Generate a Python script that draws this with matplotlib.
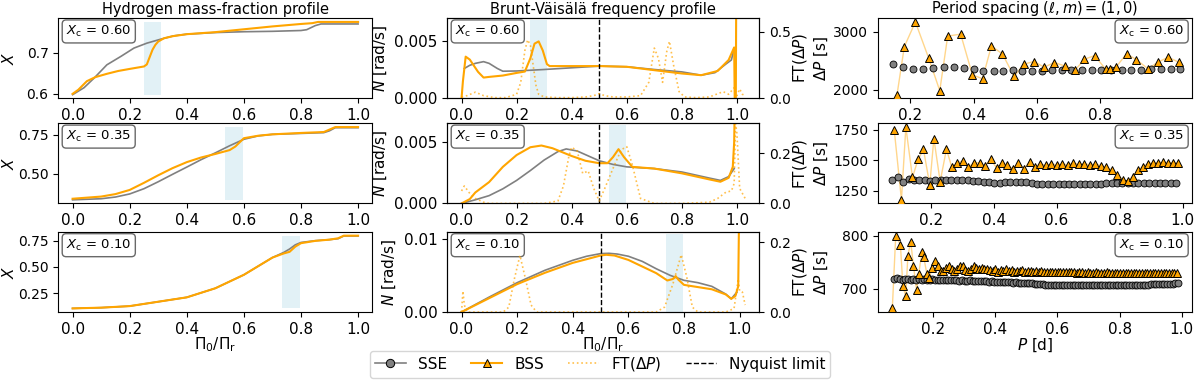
import numpy as np
import matplotlib.pyplot as plt
from matplotlib.lines import Line2D

plt.rcParams["font.size"] = 11

C_SSE = "gray"
C_BSS = "orange"
C_SHADE = "lightblue"

# ===============================
# Data: hydrogen profiles X(Pi0/Pir)
# ===============================
x_h60_sse = [0, 0.04, 0.076, 0.12, 0.17, 0.215, 0.26, 0.31, 0.355, 0.4, 0.5, 0.6, 0.7, 0.8, 0.82, 0.85, 0.87, 0.9, 1.0]
h60_sse = [0.598, 0.615, 0.639, 0.671, 0.692, 0.712, 0.724, 0.734, 0.742, 0.746, 0.750, 0.752, 0.753, 0.755, 0.757, 0.767, 0.771, 0.771, 0.771]
x_h60_bss = [0, 0.02, 0.05, 0.08, 0.12, 0.16, 0.2, 0.25, 0.26, 0.27, 0.28, 0.29, 0.3, 0.32, 0.35, 0.4, 0.5, 0.6, 0.7, 0.8, 0.84, 0.86, 0.9, 1.0]
h60_bss = [0.600, 0.610, 0.631, 0.641, 0.649, 0.656, 0.661, 0.667, 0.672, 0.690, 0.708, 0.720, 0.728, 0.736, 0.741, 0.746, 0.751, 0.758, 0.765, 0.771, 0.773, 0.776, 0.776, 0.776]

x_h35_sse = [0, 0.1, 0.15, 0.2, 0.25, 0.3, 0.35, 0.4, 0.45, 0.5, 0.55, 0.6, 0.65, 0.7, 0.8, 0.88, 0.9, 0.92, 1.0]
h35_sse = [0.330, 0.337, 0.348, 0.368, 0.402, 0.447, 0.495, 0.542, 0.590, 0.634, 0.680, 0.722, 0.744, 0.754, 0.760, 0.765, 0.777, 0.797, 0.797]
x_h35_bss = [0, 0.1, 0.15, 0.2, 0.25, 0.3, 0.35, 0.4, 0.45, 0.5, 0.53, 0.55, 0.57, 0.6, 0.65, 0.7, 0.8, 0.88, 0.9, 0.92, 1.0]
h35_bss = [0.337, 0.351, 0.367, 0.394, 0.440, 0.489, 0.535, 0.574, 0.604, 0.627, 0.642, 0.652, 0.675, 0.729, 0.745, 0.754, 0.763, 0.769, 0.785, 0.801, 0.801]

x_h10_sse = [0, 0.1, 0.2, 0.3, 0.4, 0.5, 0.6, 0.7, 0.74, 0.76, 0.78, 0.8, 0.85, 0.9, 0.93, 0.95, 1.0]
h10_sse = [0.103, 0.110, 0.125, 0.167, 0.209, 0.296, 0.425, 0.590, 0.640, 0.672, 0.712, 0.735, 0.752, 0.762, 0.771, 0.797, 0.797]
x_h10_bss = [0, 0.1, 0.2, 0.3, 0.4, 0.5, 0.6, 0.7, 0.74, 0.76, 0.78, 0.8, 0.85, 0.9, 0.93, 0.95, 1.0]
h10_bss = [0.103, 0.110, 0.125, 0.167, 0.209, 0.296, 0.425, 0.590, 0.630, 0.645, 0.695, 0.728, 0.750, 0.762, 0.775, 0.800, 0.800]

# ===============================
# Data: Brunt-Vaisala N and FT(dP)
# ===============================
x_n60_sse = [0.01, 0.03, 0.05, 0.08, 0.1, 0.13, 0.15, 0.2, 0.3, 0.4, 0.5, 0.6, 0.7, 0.8, 0.87, 0.92, 0.96, 0.98, 0.99]
n60_sse = [0.00262, 0.0029, 0.00307, 0.00322, 0.00307, 0.00262, 0.00238, 0.00240, 0.00253, 0.00268, 0.00283, 0.00277, 0.00253, 0.00232, 0.00203, 0.00225, 0.00301, 0.00337, 0.00441]
x_n60_bss = [0.0, 0.005, 0.015, 0.03, 0.06, 0.08, 0.1, 0.15, 0.2, 0.23, 0.25, 0.265, 0.28, 0.295, 0.31, 0.32, 0.4, 0.5, 0.6, 0.7, 0.8, 0.87, 0.93, 0.97, 0.99, 0.992, 0.996, 0.998]
n60_bss = [0.0, 0.0015, 0.00366, 0.0034, 0.00232, 0.00182, 0.00188, 0.00200, 0.00223, 0.00235, 0.00352, 0.00480, 0.00500, 0.0042, 0.00300, 0.00283, 0.00283, 0.00283, 0.00277, 0.00247, 0.00218, 0.00203, 0.00240, 0.00337, 0.00447, 0.0, 0.0, 0.012]
x_ft60 = [0, 0.02, 0.05, 0.08, 0.12, 0.16, 0.2, 0.215, 0.23, 0.24, 0.25, 0.26, 0.27, 0.28, 0.3, 0.35, 0.4, 0.45, 0.48, 0.5, 0.52, 0.55, 0.6, 0.65, 0.68, 0.7, 0.715, 0.73, 0.745, 0.755, 0.77, 0.79, 0.81, 0.85, 0.9, 0.95, 0.97, 0.99, 1.0, 1.01, 1.02, 1.03]
ft60 = [0.01, 0.02, 0.046, 0.02, 0.005, 0.005, 0.03, 0.12, 0.36, 0.44, 0.40, 0.25, 0.10, 0.03, 0.01, 0.005, 0.005, 0.01, 0.02, 0.035, 0.02, 0.01, 0.01, 0.02, 0.12, 0.378, 0.30, 0.12, 0.35, 0.429, 0.25, 0.05, 0.01, 0.005, 0.01, 0.05, 0.03, 0.08, 0.02, 0.07, 0.03, 0.02]

x_n35_sse = [0, 0.05, 0.1, 0.15, 0.2, 0.25, 0.3, 0.35, 0.38, 0.42, 0.46, 0.5, 0.55, 0.6, 0.7, 0.8, 0.9, 0.94, 0.97, 0.99]
n35_sse = [0, 0.0003, 0.00064, 0.0012, 0.00189, 0.0027, 0.00356, 0.00425, 0.00447, 0.0043, 0.0039, 0.0035, 0.0032, 0.0030, 0.00286, 0.00258, 0.00208, 0.00189, 0.0022, 0.00286]
x_n35_bss = [0, 0.03, 0.05, 0.1, 0.15, 0.2, 0.25, 0.29, 0.33, 0.4, 0.45, 0.5, 0.53, 0.55, 0.57, 0.59, 0.62, 0.7, 0.8, 0.9, 0.94, 0.97, 0.985, 0.99, 0.995]
n35_bss = [0, 0.00036, 0.0009, 0.00175, 0.0030, 0.00397, 0.00461, 0.00475, 0.00453, 0.00389, 0.0035, 0.0033, 0.0033, 0.0038, 0.00445, 0.0038, 0.0030, 0.00286, 0.00247, 0.00197, 0.00178, 0.0021, 0.003, 0.005, 0.012]
x_ft35 = [0, 0.01, 0.03, 0.05, 0.08, 0.1, 0.2, 0.3, 0.35, 0.37, 0.39, 0.4, 0.42, 0.44, 0.46, 0.48, 0.5, 0.52, 0.55, 0.58, 0.6, 0.62, 0.65, 0.7, 0.8, 0.9, 0.93, 0.96, 0.98, 0.99, 0.995, 1.0, 1.01, 1.02, 1.03]
ft35 = [0.05, 0.07, 0.04, 0.02, 0.005, 0.0, 0.0, 0.0, 0.01, 0.07, 0.19, 0.225, 0.21, 0.12, 0.13, 0.06, 0.01, 0.06, 0.14, 0.215, 0.227, 0.155, 0.02, 0.0, 0.0, 0.005, 0.02, 0.045, 0.05, 0.08, 0.32, 0.28, 0.06, 0.04, 0.02]

x_n10_sse = [0, 0.1, 0.2, 0.3, 0.4, 0.45, 0.5, 0.53, 0.56, 0.6, 0.65, 0.7, 0.75, 0.8, 0.85, 0.9, 0.95, 0.97, 0.99]
n10_sse = [0, 0.00205, 0.004, 0.00569, 0.00705, 0.0076, 0.00796, 0.0080, 0.0079, 0.0076, 0.0069, 0.0059, 0.0050, 0.00432, 0.0040, 0.0035, 0.00245, 0.0018, 0.0027]
x_n10_bss = [0, 0.1, 0.2, 0.3, 0.4, 0.45, 0.5, 0.52, 0.55, 0.6, 0.65, 0.7, 0.74, 0.76, 0.77, 0.78, 0.8, 0.85, 0.9, 0.95, 0.97, 0.985, 0.995, 0.998]
n10_bss = [0, 0.0019, 0.0038, 0.00535, 0.0067, 0.0072, 0.0077, 0.0078, 0.0077, 0.0071, 0.0062, 0.0053, 0.0043, 0.0045, 0.0049, 0.0044, 0.0037, 0.0034, 0.0031, 0.0024, 0.0018, 0.0022, 0.0035, 0.013]
x_ft10 = [0, 0.005, 0.01, 0.02, 0.1, 0.15, 0.17, 0.19, 0.21, 0.23, 0.25, 0.27, 0.4, 0.5, 0.6, 0.7, 0.73, 0.76, 0.79, 0.81, 0.83, 0.85, 0.95, 0.98, 0.995, 1.0, 1.01, 1.02]
ft10 = [0.0, 0.06, 0.02, 0.0, 0.0, 0.0, 0.014, 0.095, 0.162, 0.095, 0.02, 0.0, 0.0, 0.0, 0.0, 0.0, 0.014, 0.08, 0.164, 0.1, 0.014, 0.0, 0.0, 0.01, 0.095, 0.06, 0.057, 0.02]

# ===============================
# Data: period spacing dP(P)
# ===============================
p60_sse = [0.145, 0.176, 0.209, 0.240, 0.272, 0.306, 0.338, 0.368, 0.400, 0.430,
           0.463, 0.494, 0.524, 0.553, 0.585, 0.616, 0.648, 0.679, 0.709, 0.741,
           0.773, 0.802, 0.834, 0.868, 0.897, 0.929, 0.960, 0.992, 1.024, 1.052]
dp60_sse = [2446, 2389, 2355, 2360, 2383, 2400, 2400, 2383, 2355, 2331,
            2331, 2331, 2343, 2331, 2326, 2330, 2332, 2335, 2333, 2336,
            2338, 2340, 2342, 2345, 2345, 2348, 2352, 2355, 2360, 2365]
p60_bss = [0.158, 0.181, 0.216, 0.258, 0.293, 0.318, 0.359, 0.396, 0.428, 0.456,
           0.491, 0.528, 0.558, 0.590, 0.623, 0.655, 0.687, 0.721, 0.750, 0.782,
           0.817, 0.832, 0.851, 0.883, 0.914, 0.951, 0.983, 1.015, 1.050]
dp60_bss = [1914, 2743, 3171, 2544, 1983, 2926, 2960, 2257, 2189, 2755,
            2617, 2228, 2441, 2486, 2390, 2469, 2412, 2343, 2527, 2588,
            2355, 2355, 2400, 2620, 2520, 2360, 2480, 2560, 2470]

p35_sse = [0.078, 0.097, 0.112, 0.130, 0.147, 0.164, 0.181, 0.198, 0.215, 0.232,
           0.249, 0.266, 0.283, 0.300, 0.317, 0.334, 0.351, 0.368, 0.385, 0.402,
           0.419, 0.436, 0.453, 0.470, 0.487, 0.504, 0.521, 0.538, 0.555, 0.572,
           0.589, 0.606, 0.622, 0.639, 0.656, 0.673, 0.690, 0.707, 0.724, 0.741,
           0.758, 0.775, 0.792, 0.809, 0.826, 0.843, 0.860, 0.877, 0.894, 0.911,
           0.928, 0.945, 0.962, 0.979]
dp35_sse = [1338, 1365, 1324, 1343, 1340, 1336, 1334, 1333, 1334, 1335,
            1336, 1337, 1337, 1336, 1334, 1331, 1327, 1323, 1319, 1316,
            1316, 1318, 1320, 1321, 1320, 1317, 1312, 1308, 1306, 1306,
            1307, 1308, 1308, 1307, 1306, 1305, 1305, 1306, 1307, 1308,
            1309, 1310, 1311, 1311, 1312, 1312, 1313, 1313, 1313, 1314,
            1314, 1314, 1314, 1314]
p35_bss = [0.084, 0.107, 0.121, 0.142, 0.160, 0.177, 0.197, 0.210, 0.230, 0.250,
           0.267, 0.285, 0.303, 0.320, 0.337, 0.356, 0.372, 0.390, 0.409, 0.425,
           0.443, 0.461, 0.478, 0.496, 0.514, 0.531, 0.548, 0.566, 0.583, 0.601,
           0.618, 0.636, 0.653, 0.671, 0.688, 0.706, 0.723, 0.741, 0.758, 0.775,
           0.793, 0.810, 0.826, 0.842, 0.858, 0.874, 0.890, 0.906, 0.922, 0.938,
           0.954, 0.970, 0.985]
dp35_bss = [1749, 1175, 1770, 1359, 1506, 1587, 1297, 1676, 1324, 1589,
            1441, 1478, 1494, 1441, 1478, 1478, 1451, 1506, 1438, 1473,
            1459, 1427, 1473, 1427, 1486, 1446, 1466, 1459, 1466, 1462,
            1466, 1462, 1473, 1466, 1470, 1462, 1466, 1455, 1440, 1420,
            1380, 1340, 1330, 1365, 1415, 1446, 1470, 1478, 1480, 1482,
            1480, 1478, 1475]

p10_sse = [0.077, 0.086, 0.094, 0.103, 0.112, 0.120, 0.129, 0.138, 0.146, 0.155,
           0.164, 0.172, 0.181, 0.190, 0.198, 0.207, 0.216, 0.224, 0.233, 0.242,
           0.250, 0.259, 0.268, 0.276, 0.285, 0.294, 0.302, 0.311, 0.320, 0.328,
           0.337, 0.346, 0.354, 0.363, 0.372, 0.380, 0.389, 0.398, 0.406, 0.415,
           0.424, 0.432, 0.441, 0.450, 0.458, 0.467, 0.476, 0.484, 0.493, 0.502,
           0.510, 0.519, 0.528, 0.536, 0.545, 0.554, 0.562, 0.571, 0.580, 0.588,
           0.597, 0.606, 0.614, 0.623, 0.632, 0.640, 0.649, 0.658, 0.666, 0.675,
           0.684, 0.692, 0.701, 0.710, 0.718, 0.727, 0.736, 0.744, 0.753, 0.762,
           0.770, 0.779, 0.788, 0.796, 0.805, 0.814, 0.822, 0.831, 0.840, 0.848,
           0.857, 0.866, 0.874, 0.883, 0.892, 0.900, 0.909, 0.918, 0.926, 0.935,
           0.944, 0.952, 0.961, 0.970, 0.978, 0.987]
dp10_sse = [719, 720, 718, 717, 718, 719, 717, 718, 717, 718,
            717, 718, 717, 717, 718, 717, 717, 716, 717, 716,
            716, 717, 716, 716, 715, 716, 715, 715, 716, 715,
            715, 714, 715, 714, 714, 713, 714, 713, 713, 712,
            713, 712, 712, 712, 711, 712, 711, 711, 711, 710,
            710, 710, 709, 709, 709, 709, 708, 708, 708, 708,
            708, 708, 707, 707, 707, 707, 707, 707, 707, 707,
            707, 707, 707, 707, 707, 707, 707, 707, 707, 707,
            707, 707, 707, 707, 707, 708, 708, 708, 708, 708,
            708, 708, 708, 708, 708, 709, 709, 709, 709, 709,
            709, 709, 709, 709, 710, 710]
p10_bss = [0.070, 0.081, 0.096, 0.104, 0.113, 0.120, 0.129, 0.138, 0.148, 0.155,
           0.165, 0.171, 0.181, 0.189, 0.198, 0.208, 0.216, 0.225, 0.234, 0.243,
           0.251, 0.261, 0.269, 0.278, 0.287, 0.296, 0.304, 0.313, 0.322, 0.331,
           0.340, 0.349, 0.357, 0.366, 0.375,
           0.384, 0.393, 0.401, 0.410, 0.419, 0.427, 0.436, 0.445, 0.454, 0.462,
           0.471, 0.480, 0.488, 0.497, 0.506, 0.515, 0.523, 0.532, 0.541, 0.549,
           0.558, 0.567, 0.576, 0.584, 0.593, 0.602, 0.610, 0.619, 0.628, 0.637,
           0.645, 0.654, 0.663, 0.671, 0.680, 0.689, 0.698, 0.706, 0.715, 0.724,
           0.732, 0.741, 0.750, 0.759, 0.767, 0.776, 0.785, 0.793, 0.802, 0.811,
           0.820, 0.828, 0.837, 0.846, 0.854, 0.863, 0.872, 0.881, 0.889, 0.898,
           0.907, 0.915, 0.924, 0.933, 0.942, 0.950, 0.959, 0.968, 0.976, 0.985]
dp10_bss = [663, 800, 783, 705, 686, 762, 789, 743, 697, 728,
            770, 759, 728, 720, 740, 752, 743, 734, 734, 740,
            743, 738, 734, 738, 743, 743, 736, 734, 738, 743,
            740, 738, 740, 738, 738,
            735, 733, 737, 732, 736, 734, 738, 733, 735, 732,
            734, 733, 735, 732, 733, 734, 732, 733, 732, 733,
            732, 731, 732, 732, 731, 732, 731, 731, 732, 731,
            731, 731, 730, 731, 731, 730, 731, 730, 730, 731,
            730, 730, 730, 731, 730, 730, 730, 730, 730, 730,
            730, 730, 730, 730, 730, 730, 730, 730, 730, 730,
            730, 730, 730, 730, 730, 730, 730, 730, 730, 729]

XC_LABELS = ["0.60", "0.35", "0.10"]
SHADE = [(0.25, 0.31), (0.535, 0.597), (0.735, 0.797)]

H_DATA = [(x_h60_sse, h60_sse, x_h60_bss, h60_bss),
          (x_h35_sse, h35_sse, x_h35_bss, h35_bss),
          (x_h10_sse, h10_sse, x_h10_bss, h10_bss)]
N_DATA = [(x_n60_sse, n60_sse, x_n60_bss, n60_bss, x_ft60, ft60),
          (x_n35_sse, n35_sse, x_n35_bss, n35_bss, x_ft35, ft35),
          (x_n10_sse, n10_sse, x_n10_bss, n10_bss, x_ft10, ft10)]
P_DATA = [(p60_sse, dp60_sse, p60_bss, dp60_bss),
          (p35_sse, dp35_sse, p35_bss, dp35_bss),
          (p10_sse, dp10_sse, p10_bss, dp10_bss)]

# ===============================
# Layout
# ===============================
fig = plt.figure(figsize=(12, 3.81), dpi=100)

COL_LEFT = [0.0486, 0.3728, 0.7317]
COL_W = [0.2617, 0.26, 0.2617]
ROW_BOTTOM = [0.742, 0.466, 0.181]
ROW_H = 0.21

H_YTICKS = [[0.6, 0.7], [0.5, 0.75], [0.25, 0.5, 0.75]]
N_YLIM = [(0, 0.00703), (0, 0.00656), (0, 0.0109)]
N_YTICKS = [[0, 0.005], [0, 0.005], [0, 0.01]]
FT_YLIM = [(0, 0.602), (0, 0.32), (0, 0.229)]
FT_YTICKS = [[0, 0.5], [0, 0.2], [0, 0.2]]
P_YTICKS = [[2000, 3000], [1250, 1500, 1750], [700, 800]]

box = dict(boxstyle="round,pad=0.3", fc="white", ec="dimgray", lw=1)
TITLE_FS = 10.5

for i in range(3):
    # ---- hydrogen profile
    ax = fig.add_axes([COL_LEFT[0], ROW_BOTTOM[i], COL_W[0], ROW_H])
    xs, ys, xb, yb = H_DATA[i]
    lo = min(min(ys), min(yb))
    hi = max(max(ys), max(yb))
    ax.fill_betweenx([lo, hi], SHADE[i][0], SHADE[i][1], color=C_SHADE, alpha=0.35, lw=0)
    ax.plot(xs, ys, color=C_SSE, lw=1.2)
    ax.plot(xb, yb, color=C_BSS, lw=1.5)
    ax.set_yticks(H_YTICKS[i])
    ax.tick_params(axis="y", labelsize=10)
    ax.set_ylabel("$X$")
    ax.yaxis.set_label_coords(-0.132, 0.5)
    ax.text(0.025, 0.93, r"$X_{\rm c}$ = " + XC_LABELS[i], transform=ax.transAxes,
            ha="left", va="top", fontsize=9.5, bbox=box)
    if i == 0:
        ax.set_title("Hydrogen mass-fraction profile", fontsize=TITLE_FS, pad=3)
    if i == 2:
        ax.set_xlabel(r"$\Pi_0/\Pi_{\rm r}$", labelpad=-1)

    # ---- Brunt-Vaisala profile
    ax = fig.add_axes([COL_LEFT[1], ROW_BOTTOM[i], COL_W[1], ROW_H])
    xs, ys, xb, yb, xf, yf = N_DATA[i]
    ax.axvspan(SHADE[i][0], SHADE[i][1], ymax=0.98, color=C_SHADE, alpha=0.35, lw=0)
    ax.plot(xs, ys, color=C_SSE, lw=1.2)
    ax.plot(xb, yb, color=C_BSS, lw=1.5)
    ax.axvline(0.5, color="k", ls="--", lw=1)
    ax.set_ylim(N_YLIM[i])
    ax.set_yticks(N_YTICKS[i])
    ax.set_ylabel("$N$ [rad/s]")
    ax.text(0.025, 0.93, r"$X_{\rm c}$ = " + XC_LABELS[i], transform=ax.transAxes,
            ha="left", va="top", fontsize=9.5, bbox=box, zorder=5)
    axr = ax.twinx()
    axr.plot(xf, yf, color=C_BSS, ls=":", lw=1.2, alpha=0.7)
    axr.set_ylim(FT_YLIM[i])
    axr.set_yticks(FT_YTICKS[i])
    axr.tick_params(axis="y", labelsize=10)
    axr.set_ylabel(r"FT($\Delta P$)")
    axr.yaxis.set_label_coords(1.102, 0.5)
    if i == 0:
        ax.set_title("Brunt-Väisälä frequency profile", fontsize=TITLE_FS, pad=3)
    if i == 2:
        ax.set_xlabel(r"$\Pi_0/\Pi_{\rm r}$", labelpad=-1)

    # ---- period spacing
    ax = fig.add_axes([COL_LEFT[2], ROW_BOTTOM[i], COL_W[2], ROW_H])
    ps, ds, pb, db = P_DATA[i]
    ax.plot(pb, db, color=C_BSS, lw=1, alpha=0.45, zorder=1)
    ax.plot(ps, ds, ls="none", marker="o", ms=5, mfc=C_SSE, mec="k", mew=0.6, zorder=2)
    ax.plot(pb, db, ls="none", marker="^", ms=5.5, mfc=C_BSS, mec="k", mew=0.7, zorder=3)
    ax.set_yticks(P_YTICKS[i])
    ax.tick_params(axis="y", labelsize=10)
    ax.set_ylabel(r"$\Delta P$ [s]")
    ax.yaxis.set_label_coords(-0.152, 0.5)
    ax.text(0.975, 0.93, r"$X_{\rm c}$ = " + XC_LABELS[i], transform=ax.transAxes,
            ha="right", va="top", fontsize=9.5, bbox=box)
    if i == 0:
        ax.set_xlim(0.098, 1.09)
        ax.set_xticks([0.2, 0.4, 0.6, 0.8])
        ax.set_title(r"Period spacing $(\ell, m) = (1, 0)$", fontsize=TITLE_FS, pad=3)
    if i == 2:
        ax.set_xlabel("$P$ [d]", labelpad=0)

# ===============================
# Legend
# ===============================
handles = [
    Line2D([], [], color=C_SSE, marker="o", ms=6, mfc=C_SSE, mec="k", mew=0.7, lw=1.2),
    Line2D([], [], color=C_BSS, marker="^", ms=6, mfc=C_BSS, mec="k", mew=0.7, lw=1.5),
    Line2D([], [], color=C_BSS, ls=":", lw=1.2, alpha=0.7),
    Line2D([], [], color="k", ls="--", lw=1),
]
labels = ["SSE", "BSS", r"FT($\Delta P$)", "Nyquist limit"]
fig.legend(handles, labels, loc="center", bbox_to_anchor=(0.5, 0.044), ncol=4,
           fontsize=11, handlelength=2.0, columnspacing=1.6, borderpad=0.3)

fig.savefig("out.png", dpi=100)
